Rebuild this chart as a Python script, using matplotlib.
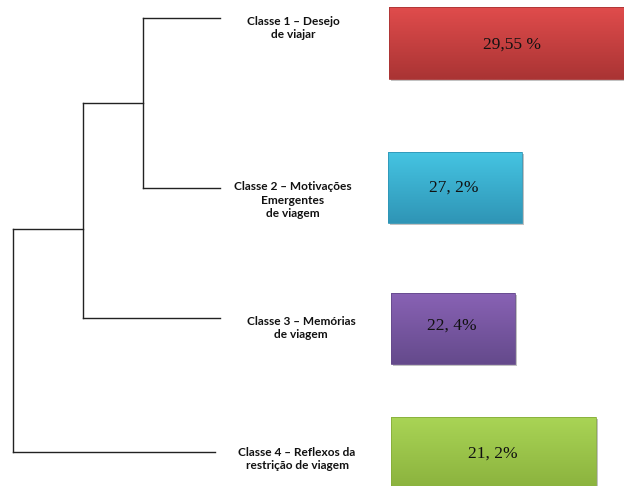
import numpy as np
import matplotlib.pyplot as plt
from matplotlib import patches
from matplotlib.colors import to_rgb

# ---------------- data ---------------------------------------------------------
class_labels = [
    "Classe 1 \u2013 Desejo\nde viajar",
    "Classe 2 \u2013 Motivações\nEmergentes\nde viagem",
    "Classe 3 \u2013 Memórias\nde viagem",
    "Classe 4 \u2013 Reflexos da\nrestrição de viagem",
]
pct_labels = ["29,55 %", "27, 2%", "22, 4%", "21, 2%"]
# dendrogram: leaf order and merge levels (left = higher distance)
leaf_pos = [18, 188, 318, 452]
merge_level = [143, 83, 13]      # merge (1,2), ((1,2),3), (((1,2),3),4)

# ---------------- layout / style ----------------------------------------------
leaf_end = [220, 220, 220, 215]
label_x = [293, 293, 301, 297]
label_y = [28, 200, 328, 459]
boxes = [(389, 7, 640, 79), (388, 152, 522, 223), (391, 293, 515, 364), (391, 417, 596, 500)]
pct_xy = [(512, 45), (454, 188), (452, 326), (493, 454)]
top_cols = ["#e04c4c", "#45c4e2", "#8862b4", "#a9d455"]
bot_cols = ["#aa3434", "#2f95b6", "#654a8c", "#86ad3a"]

fig = plt.figure(figsize=(6.24, 4.86), dpi=100)
ax = fig.add_axes([0, 0, 1, 1])
ax.set_xlim(0, 624)
ax.set_ylim(486, 0)
ax.set_axis_off()

lc = "#222222"
lw = 1.0
# leaves
xs = merge_level
ax.plot([xs[0], leaf_end[0]], [leaf_pos[0]] * 2, color=lc, lw=lw)
ax.plot([xs[0], leaf_end[1]], [leaf_pos[1]] * 2, color=lc, lw=lw)
ax.plot([xs[0], xs[0]], [leaf_pos[0], leaf_pos[1]], color=lc, lw=lw)
m1 = (leaf_pos[0] + leaf_pos[1]) / 2 + 0.5
ax.plot([xs[1], xs[0]], [m1, m1], color=lc, lw=lw)
ax.plot([xs[1], leaf_end[2]], [leaf_pos[2]] * 2, color=lc, lw=lw)
ax.plot([xs[1], xs[1]], [m1, leaf_pos[2]], color=lc, lw=lw)
m2 = 229
ax.plot([xs[2], xs[1]], [m2, m2], color=lc, lw=lw)
ax.plot([xs[2], leaf_end[3]], [leaf_pos[3]] * 2, color=lc, lw=lw)
ax.plot([xs[2], xs[2]], [m2, leaf_pos[3]], color=lc, lw=lw)

for lab, x, y in zip(class_labels, label_x, label_y):
    ax.text(x, y, lab, ha="center", va="center", fontsize=8.6,
            fontweight="bold", family="Lato", color="#111111", linespacing=1.3)

for (x0, y0, x1, y1), ct, cb, lab, (tx, ty) in zip(boxes, top_cols, bot_cols, pct_labels, pct_xy):
    # shadow
    ax.add_patch(patches.Rectangle((x0 + 2, y0 + 2), x1 - x0, y1 - y0,
                                   facecolor="#9a9a9a", edgecolor="none", alpha=0.6, zorder=1))
    t = np.linspace(0, 1, 64)[:, None]
    grad = (1 - t) * np.array(to_rgb(ct)) + t * np.array(to_rgb(cb))
    grad = grad[:, None, :].repeat(2, axis=1)
    ax.imshow(grad, extent=(x0, x1, y1, y0), aspect="auto", zorder=2,
              interpolation="bilinear")
    ax.add_patch(patches.Rectangle((x0, y0), x1 - x0, y1 - y0, facecolor="none",
                                   edgecolor=cb, lw=0.6, zorder=3))
    ax.text(tx, ty, lab, ha="center", va="center", fontsize=12.5,
            family="Liberation Serif", color="#111111", zorder=4)

ax.set_xlim(0, 624)
ax.set_ylim(486, 0)
fig.savefig("out.png", dpi=100)
